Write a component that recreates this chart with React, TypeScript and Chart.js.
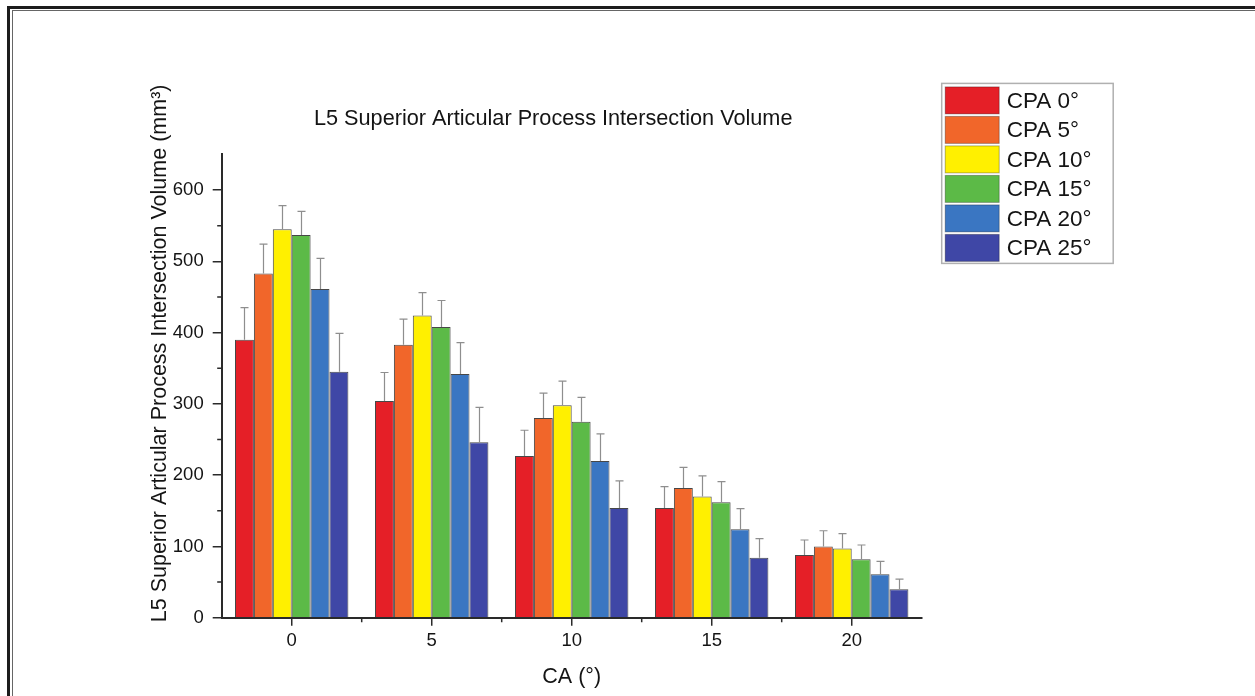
import React, { useEffect, useRef } from 'react';
import { Chart, registerables } from 'chart.js';

Chart.register(...registerables);

// ---- data ----
const categories = ['0', '5', '10', '15', '20'];
const seriesLabels = ['CPA 0°', 'CPA 5°', 'CPA 10°', 'CPA 15°', 'CPA 20°', 'CPA 25°'];
const cpa0 = [390, 304, 227, 154, 88];
const cpa5 = [483, 383, 280, 182, 100];
const cpa10 = [545, 424, 298, 170, 97];
const cpa15 = [537, 408, 275, 162, 82];
const cpa20 = [461, 342, 220, 124, 61];
const cpa25 = [345, 246, 154, 84, 40];
const err0 = [45, 40, 36, 30, 21];
const err5 = [41, 36, 35, 29, 22];
const err10 = [33, 32, 34, 29, 21];
const err15 = [33, 37, 34, 29, 20];
const err20 = [43, 44, 38, 29, 18];
const err25 = [54, 49, 38, 27, 14];
const yMax = 650;
const yMajorStep = 100;
const yMinorTicks = [50, 150, 250, 350, 450, 550];
const seriesColors = ['#E51F27', '#F1662A', '#FFF000', '#5CBA47', '#3A76C2', '#3F47A6'];

const titleText = 'L5 Superior Articular Process Intersection Volume';
const yTitleText = 'L5 Superior Articular Process Intersection Volume (mm³)';
const xTitleText = 'CA (°)';

const FONT = '"Liberation Sans", Arial, Helvetica, sans-serif';
const TEXT = '#141414';
const AXIS = '#2a2a2a';

const values = [cpa0, cpa5, cpa10, cpa15, cpa20, cpa25];
const errors = [err0, err5, err10, err15, err20, err25];

export default function App() {
  const ref = useRef<HTMLCanvasElement | null>(null);

  useEffect(() => {
    if (!ref.current) return;

    const errorBars = {
      id: 'errorBars',
      afterDatasetsDraw(chart: any) {
        const ctx = chart.ctx;
        const yScale = chart.scales.y;
        ctx.save();
        ctx.strokeStyle = '#8e8e8e';
        ctx.lineWidth = 1.2;
        chart.data.datasets.forEach((ds: any, i: number) => {
          const meta = chart.getDatasetMeta(i);
          meta.data.forEach((bar: any, j: number) => {
            const v = ds.data[j];
            const e = errors[i][j];
            const yTop = yScale.getPixelForValue(v + e);
            const x = Math.round(bar.x) + 0.5;
            ctx.beginPath();
            ctx.moveTo(x, bar.y);
            ctx.lineTo(x, yTop);
            ctx.moveTo(x - 4, yTop);
            ctx.lineTo(x + 4, yTop);
            ctx.stroke();
          });
        });
        ctx.restore();
      },
    };

    const decor = {
      id: 'decor',
      afterDraw(chart: any) {
        const ctx = chart.ctx;
        const ca = chart.chartArea;
        const xs = chart.scales.x;
        const ys = chart.scales.y;
        ctx.save();
        // minor ticks
        ctx.strokeStyle = AXIS;
        ctx.lineWidth = 1.5;
        ctx.beginPath();
        for (let i = 0; i < categories.length - 1; i++) {
          const x = (xs.getPixelForValue(i) + xs.getPixelForValue(i + 1)) / 2;
          ctx.moveTo(x, ca.bottom);
          ctx.lineTo(x, ca.bottom + 4.5);
        }
        yMinorTicks.forEach((t) => {
          const y = ys.getPixelForValue(t);
          ctx.moveTo(ca.left, y);
          ctx.lineTo(ca.left - 4.5, y);
        });
        ctx.stroke();

        // chart title
        ctx.fillStyle = TEXT;
        ctx.font = `21.7px ${FONT}`;
        ctx.textAlign = 'center';
        ctx.textBaseline = 'alphabetic';
        ctx.fillText(titleText, ca.left + 331.5, ca.top - 29.5);

        // y title
        ctx.save();
        ctx.translate(ca.left - 55.5, ca.top + 199);
        ctx.rotate(-Math.PI / 2);
        ctx.textAlign = 'center';
        ctx.textBaseline = 'alphabetic';
        ctx.font = `21.5px ${FONT}`;
        ctx.fillText(yTitleText, 0, 0);
        ctx.restore();

        // legend
        const lx = ca.right + 20;
        const ly = ca.top - 71;
        const lw = 171.5;
        const lh = 180;
        ctx.strokeStyle = '#b0b0b0';
        ctx.lineWidth = 1.5;
        ctx.strokeRect(lx, ly, lw, lh);
        chart.data.datasets.forEach((ds: any, i: number) => {
          const top = ly + 3.5 + i * 29.5;
          ctx.fillStyle = ds.backgroundColor;
          ctx.fillRect(lx + 3.5, top, 54, 27);
          ctx.strokeStyle = 'rgba(0,0,0,0.3)';
          ctx.lineWidth = 1;
          ctx.strokeRect(lx + 3.5, top, 54, 27);
          ctx.fillStyle = TEXT;
          ctx.font = `22.5px ${FONT}`;
          ctx.textAlign = 'left';
          ctx.textBaseline = 'alphabetic';
          ctx.fillText(ds.label, lx + 65, top + 21);
        });
        ctx.restore();
      },
    };

    const chart = new Chart(ref.current, {
      type: 'bar',
      data: {
        labels: categories,
        datasets: values.map((d, i) => ({
          label: seriesLabels[i],
          data: d,
          backgroundColor: seriesColors[i],
          borderColor: 'rgba(25,25,25,0.8)',
          borderWidth: 1,
          borderSkipped: 'bottom',
          categoryPercentage: 0.81,
          barPercentage: 1,
        })),
      },
      plugins: [errorBars, decor],
      options: {
        responsive: false,
        animation: false,
        devicePixelRatio: 1,
        layout: { padding: { left: 120, top: 154.4, right: 333.3, bottom: 0 } },
        plugins: {
          legend: { display: false },
          title: { display: false },
          tooltip: { enabled: false },
        },
        scales: {
          x: {
            type: 'category',
            afterFit: (s: any) => {
              s.height = 78.3;
            },
            grid: {
              display: true,
              drawOnChartArea: false,
              drawTicks: true,
              offset: false,
              tickLength: 8,
              color: AXIS,
              lineWidth: 1.5,
            },
            border: { display: true, color: AXIS, width: 2 },
            ticks: {
              color: TEXT,
              font: { family: FONT, size: 18.5 },
              padding: 4,
              maxRotation: 0,
            },
            title: {
              display: true,
              text: xTitleText,
              color: TEXT,
              font: { family: FONT, size: 21.5 },
              padding: { top: 0, bottom: 6 },
            },
          },
          y: {
            type: 'linear',
            min: 0,
            max: yMax,
            afterFit: (s: any) => {
              s.width = 101.7;
            },
            grid: {
              display: true,
              drawOnChartArea: false,
              drawTicks: true,
              tickLength: 9,
              color: AXIS,
              lineWidth: 1.5,
            },
            border: { display: true, color: AXIS, width: 2 },
            ticks: {
              stepSize: yMajorStep,
              includeBounds: false,
              color: TEXT,
              font: { family: FONT, size: 18.5 },
              padding: 9,
            },
          },
        },
      },
    });
    return () => chart.destroy();
  }, []);

  return (
    <div
      style={{
        position: 'absolute',
        left: 0,
        top: 0,
        width: 1255,
        height: 696,
        background: '#ffffff',
        overflow: 'hidden',
      }}
    >
      <div
        style={{
          position: 'absolute',
          left: 7,
          top: 6,
          width: 1300,
          height: 800,
          borderTop: '3px solid #1c1c1c',
          borderLeft: '3px solid #1c1c1c',
        }}
      />
      <div
        style={{
          position: 'absolute',
          left: 11.5,
          top: 10,
          width: 1300,
          height: 800,
          borderTop: '1.5px solid #666',
          borderLeft: '1.5px solid #666',
        }}
      />
      <canvas ref={ref} width={1255} height={696} style={{ position: 'absolute', left: 0, top: 0 }} />
    </div>
  );
}
